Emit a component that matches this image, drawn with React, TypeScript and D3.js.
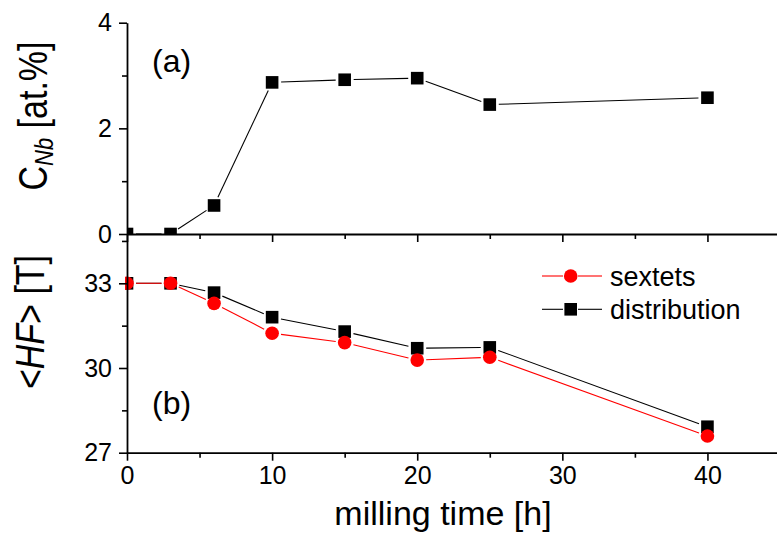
import React, { useEffect, useRef } from "react";
import * as d3 from "d3";

// milling time [h]
const times = [0, 3, 6, 10, 15, 20, 25, 40];
// (a) Nb content, at.%
const cNb = [0, 0, 0.54, 2.87, 2.92, 2.95, 2.45, 2.58];
// (b) mean hyperfine field, T
const hfSextets = [33.0, 33.0, 32.29, 31.23, 30.9, 30.28, 30.38, 27.59];
const hfDistribution = [33.0, 33.0, 32.67, 31.8, 31.29, 30.7, 30.73, 27.92];

const xMajor = [0, 10, 20, 30, 40];
const xMinor = [5, 15, 25, 35];
const topMajor = [0, 2, 4];
const topMinor = [1, 3];
const botMajor = [27, 30, 33];
const botMinor = [28.5, 31.5, 34.5];

const legendItems = [
  { label: "sextets", color: "#ff0000", shape: "circle" },
  { label: "distribution", color: "#000000", shape: "square" },
];

const FONT = "Arial, 'Liberation Sans', sans-serif";

const App = () => {
  const svgRef = useRef<SVGSVGElement>(null);
  const width = 777;
  const height = 536;

  useEffect(() => {
    const svg = d3.select(svgRef.current);
    svg.selectAll("*").remove();

    const left = 127;
    const right = 780;
    const topY0 = 22.7;
    const mid = 234;
    const bottom = 452.7;

    const x = d3.scaleLinear().domain([0, 45]).range([left, right]);
    const yTop = d3.scaleLinear().domain([0, 4]).range([mid, topY0]);
    const yBot = d3.scaleLinear().domain([27, 33]).range([bottom, 283.3]);

    const defs = svg.append("defs");
    defs.append("clipPath").attr("id", "clipTop")
      .append("rect").attr("x", left).attr("y", 0).attr("width", right - left).attr("height", mid);
    defs.append("clipPath").attr("id", "clipBot")
      .append("rect").attr("x", left - 2).attr("y", mid).attr("width", right - left + 2).attr("height", bottom - mid);

    // line segments with small gaps at the markers, like Origin draws them
    const drawSeries = (g, ys, yScale, color, shape) => {
      const pts = times.map((t, i) => [x(t), yScale(ys[i])]);
      const gap = 9;
      for (let i = 0; i < pts.length - 1; i++) {
        const [x1, y1] = pts[i];
        const [x2, y2] = pts[i + 1];
        const len = Math.hypot(x2 - x1, y2 - y1);
        if (len <= 2 * gap) continue;
        const ux = (x2 - x1) / len;
        const uy = (y2 - y1) / len;
        g.append("line")
          .attr("x1", x1 + ux * gap).attr("y1", y1 + uy * gap)
          .attr("x2", x2 - ux * gap).attr("y2", y2 - uy * gap)
          .attr("stroke", color).attr("stroke-width", 1.1);
      }
      if (shape === "square") {
        g.selectAll(null).data(pts).enter().append("rect")
          .attr("x", (d) => d[0] - 6.3).attr("y", (d) => d[1] - 6.3)
          .attr("width", 12.6).attr("height", 12.6)
          .attr("fill", color);
      } else {
        g.selectAll(null).data(pts).enter().append("circle")
          .attr("cx", (d) => d[0]).attr("cy", (d) => d[1]).attr("r", 6.8)
          .attr("fill", color);
      }
    };

    const gTop = svg.append("g").attr("clip-path", "url(#clipTop)");
    drawSeries(gTop, cNb, yTop, "#000", "square");

    const gBot = svg.append("g").attr("clip-path", "url(#clipBot)");
    drawSeries(gBot, hfDistribution, yBot, "#000", "square");
    drawSeries(gBot, hfSextets, yBot, "#ff0000", "circle");

    const styleAxis = (g) => {
      g.selectAll("path").attr("stroke", "#000").attr("stroke-width", 1.8);
      g.selectAll("line").attr("stroke", "#000").attr("stroke-width", 1.6);
      g.selectAll("text").attr("font-family", FONT).attr("font-size", 25).attr("fill", "#000");
    };

    // top panel x axis, no labels
    svg.append("g").attr("transform", `translate(0,${mid})`)
      .call(d3.axisBottom(x).tickValues(xMajor).tickSize(8).tickSizeOuter(0).tickFormat(() => ""))
      .call(styleAxis);
    svg.append("g").attr("transform", `translate(0,${mid})`)
      .call(d3.axisBottom(x).tickValues(xMinor).tickSize(5).tickSizeOuter(0).tickFormat(() => ""))
      .call((g) => g.select(".domain").remove())
      .call(styleAxis);

    // bottom panel x axis
    svg.append("g").attr("transform", `translate(0,${bottom})`)
      .call(d3.axisBottom(x).tickValues(xMajor).tickSize(8).tickPadding(6).tickSizeOuter(0).tickFormat(d3.format("d")))
      .call(styleAxis);
    svg.append("g").attr("transform", `translate(0,${bottom})`)
      .call(d3.axisBottom(x).tickValues(xMinor).tickSize(5).tickSizeOuter(0).tickFormat(() => ""))
      .call((g) => g.select(".domain").remove())
      .call(styleAxis);

    // top y axis
    svg.append("g").attr("transform", `translate(${left},0)`)
      .call(d3.axisLeft(yTop).tickValues(topMajor).tickSize(8).tickPadding(7).tickSizeOuter(0).tickFormat(d3.format("d")))
      .call(styleAxis);
    svg.append("g").attr("transform", `translate(${left},0)`)
      .call(d3.axisLeft(yTop).tickValues(topMinor).tickSize(5).tickSizeOuter(0).tickFormat(() => ""))
      .call((g) => g.select(".domain").remove())
      .call(styleAxis);

    // bottom y axis runs up to the shared border
    const yBotFull = d3.scaleLinear().domain([27, yBot.invert(mid)]).range([bottom, mid]);
    svg.append("g").attr("transform", `translate(${left},0)`)
      .call(d3.axisLeft(yBotFull).tickValues(botMajor).tickSize(8).tickPadding(7).tickSizeOuter(0).tickFormat(d3.format("d")))
      .call(styleAxis);
    svg.append("g").attr("transform", `translate(${left},0)`)
      .call(d3.axisLeft(yBotFull).tickValues(botMinor).tickSize(5).tickSizeOuter(0).tickFormat(() => ""))
      .call((g) => g.select(".domain").remove())
      .call(styleAxis);

    // axis titles
    svg.append("text")
      .attr("x", 443).attr("y", 525)
      .attr("text-anchor", "middle").attr("font-family", FONT).attr("font-size", 34)
      .text("milling time [h]");

    const tTop = svg.append("text")
      .attr("transform", "translate(47,116) scale(1.2,1) rotate(-90)")
      .attr("text-anchor", "middle").attr("font-family", FONT).attr("font-size", 34);
    tTop.append("tspan").text("C");
    tTop.append("tspan").attr("font-style", "italic").attr("font-size", 22).attr("dy", 5).text("Nb");
    tTop.append("tspan").attr("dy", -5).text(" [at.%]");

    const tBot = svg.append("text")
      .attr("transform", "translate(44,322) scale(1.2,1) rotate(-90)")
      .attr("text-anchor", "middle").attr("font-family", FONT).attr("font-size", 34);
    tBot.append("tspan").text("<");
    tBot.append("tspan").attr("font-style", "italic").text("HF");
    tBot.append("tspan").text("> [T]");

    // panel labels
    svg.append("text").attr("x", 152).attr("y", 72)
      .attr("font-family", FONT).attr("font-size", 32).text("(a)");
    svg.append("text").attr("x", 152).attr("y", 414)
      .attr("font-family", FONT).attr("font-size", 32).text("(b)");

    // legend
    legendItems.forEach((item, i) => {
      const cy = 276 + i * 33.3;
      const g = svg.append("g");
      g.append("line").attr("x1", 542).attr("x2", 563).attr("y1", cy).attr("y2", cy)
        .attr("stroke", item.color).attr("stroke-width", 1.1);
      g.append("line").attr("x1", 578).attr("x2", 602).attr("y1", cy).attr("y2", cy)
        .attr("stroke", item.color).attr("stroke-width", 1.1);
      if (item.shape === "circle") {
        g.append("circle").attr("cx", 570.7).attr("cy", cy).attr("r", 6.8).attr("fill", item.color);
      } else {
        g.append("rect").attr("x", 570.7 - 6.3).attr("y", cy - 6.3).attr("width", 12.6).attr("height", 12.6)
          .attr("fill", item.color);
      }
      g.append("text").attr("x", 610).attr("y", cy + 9.5)
        .attr("font-family", FONT).attr("font-size", 27).text(item.label);
    });
  }, []);

  return (
    <div style={{ position: "absolute", left: 0, top: 0, width, height, background: "#fff" }}>
      <svg ref={svgRef} width={width} height={height} style={{ display: "block" }}></svg>
    </div>
  );
};

export default App;
